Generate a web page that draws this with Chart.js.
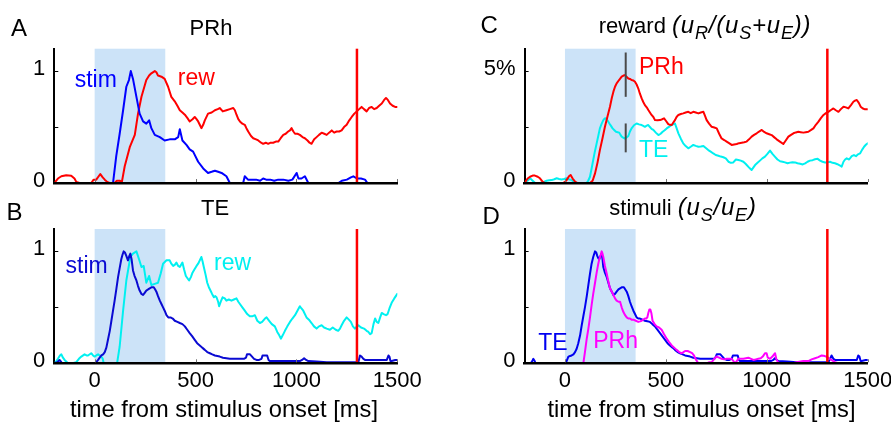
<!DOCTYPE html>
<html><head><meta charset="utf-8">
<script src="https://cdn.jsdelivr.net/npm/chart.js@4.4.1/dist/chart.umd.min.js"></script>
<style>
html,body{margin:0;padding:0;background:#fff;overflow:hidden;width:891px;height:424px}
body{position:relative;font-family:"Liberation Sans",Arial,Helvetica,sans-serif;color:#000}
canvas{position:absolute}
.t{position:absolute;white-space:nowrap;line-height:1}
.c{transform:translateX(-50%)}
.i{font-style:italic;font-size:24px;letter-spacing:0.8px}
.s{font-size:18px;position:relative;top:6px}
</style></head><body>
<canvas id="cA" width="445" height="192" style="left:0;top:20px"></canvas>
<canvas id="cB" width="445" height="200" style="left:0;top:200px"></canvas>
<canvas id="cC" width="455" height="192" style="left:445px;top:20px"></canvas>
<canvas id="cD" width="455" height="200" style="left:445px;top:200px"></canvas>

<div class="t" style="left:11px;top:16px;font-size:24px">A</div>
<div class="t" style="left:6.5px;top:200px;font-size:24px">B</div>
<div class="t" style="left:480.5px;top:13px;font-size:24px">C</div>
<div class="t" style="left:482.5px;top:204px;font-size:24px">D</div>

<div class="t c" style="left:211px;top:17.4px;font-size:22px">PRh</div>
<div class="t c" style="left:215px;top:197.4px;font-size:22px">TE</div>
<div class="t c" style="left:705px;top:13.4px;font-size:22px">reward <span class="i">(u<span class="s">R</span>/(u<span class="s">S</span>+u<span class="s">E</span>))</span></div>
<div class="t c" style="left:683px;top:194.5px;font-size:22px">stimuli <span class="i">(u<span class="s">S</span>/u<span class="s">E</span>)</span></div>
<div class="t c" style="left:224px;top:398px;font-size:23.7px">time from stimulus onset [ms]</div>
<div class="t c" style="left:701.5px;top:398px;font-size:23.7px">time from stimulus onset [ms]</div>

<script>
// ---------- data ----------
const timeTicks = [0, 500, 1000, 1500];
const timeTickLabels = ['0', '500', '1000', '1500'];
const unitTicks = [0, 0.5, 1];
const unitTickLabels = ['0', '', '1'];
const pctTicks = [0, 2.5, 5];
const pctTickLabels = ['0', '', '5%'];
const stimWindow = [0, 350];      // ms, shaded stimulus period
const rewardOnset = 1300;         // ms, red line

// Panel A: PRh, stim (blue) and rew (red)
const prhStim = [[-200,0],[-180,0],[-150,0],[-100,0],[-50,0],[0,0],[50,0],[91,0],[107,0.24],[124,0.44],[141,0.65],[157,0.86],[170,0.92],[179,1.0],[190,0.93],[207,0.77],[223,0.62],[240,0.55],[256,0.53],[270,0.56],[281,0.49],[298,0.43],[323,0.41],[347,0.38],[372,0.39],[397,0.39],[414,0.41],[422,0.48],[435,0.38],[455,0.34],[471,0.30],[488,0.28],[513,0.19],[538,0.13],[562,0.09],[580,0.10],[596,0.11],[612,0.10],[629,0.09],[653,0.06],[670,0],[720,0],[736,0],[744,0.06],[760,0.03],[780,0.03],[800,0.03],[820,0.02],[835,0.04],[850,0.03],[870,0.03],[890,0.02],[910,0.03],[935,0.03],[960,0.02],[980,0.03],[1001,0.09],[1010,0.04],[1025,0.04],[1042,0.06],[1059,0],[1100,0],[1150,0],[1208,0],[1225,0.02],[1250,0.03],[1270,0.05],[1282,0.06],[1300,0.04],[1320,0.04],[1340,0.03],[1352,0],[1400,0],[1450,0],[1500,0]];
const prhRew = [[-200,0],[-182,0.04],[-165,0.06],[-141,0.07],[-116,0.065],[-100,0.04],[-91,0.01],[-75,0],[-58,0],[-40,0],[-17,0],[-5,0.03],[8,0.03],[20,0.06],[28,0.08],[40,0.05],[50,0.03],[62,0.01],[74,0],[99,0],[110,0.02],[124,0.02],[135,0.01],[149,0.15],[174,0.32],[199,0.43],[215,0.62],[232,0.77],[256,0.92],[270,0.96],[281,0.98],[298,1.0],[306,0.99],[314,0.96],[331,0.95],[347,0.93],[364,0.86],[380,0.77],[397,0.73],[410,0.69],[422,0.65],[435,0.63],[447,0.61],[460,0.58],[471,0.55],[485,0.57],[496,0.59],[505,0.57],[513,0.55],[521,0.52],[529,0.49],[538,0.52],[546,0.56],[562,0.62],[580,0.63],[596,0.65],[610,0.66],[620,0.67],[635,0.64],[653,0.65],[670,0.66],[687,0.67],[695,0.65],[703,0.61],[712,0.57],[720,0.55],[732,0.53],[744,0.52],[752,0.49],[761,0.46],[775,0.42],[786,0.40],[800,0.39],[811,0.38],[825,0.36],[835,0.35],[848,0.36],[860,0.35],[872,0.36],[885,0.36],[898,0.37],[910,0.37],[922,0.40],[935,0.43],[947,0.44],[959,0.46],[968,0.47],[976,0.49],[985,0.46],[993,0.44],[1005,0.44],[1017,0.43],[1030,0.41],[1042,0.40],[1055,0.38],[1065,0.36],[1075,0.35],[1088,0.39],[1100,0.41],[1112,0.43],[1125,0.45],[1138,0.44],[1150,0.43],[1162,0.45],[1175,0.47],[1187,0.45],[1199,0.46],[1212,0.46],[1224,0.47],[1236,0.50],[1249,0.52],[1262,0.56],[1274,0.59],[1287,0.62],[1299,0.64],[1311,0.66],[1323,0.68],[1335,0.66],[1348,0.64],[1360,0.67],[1373,0.68],[1385,0.66],[1398,0.67],[1410,0.69],[1423,0.71],[1434,0.74],[1444,0.76],[1454,0.74],[1464,0.71],[1477,0.69],[1489,0.68],[1500,0.68]];

// Panel B: TE, stim (dark blue) and rew (cyan)
const teStim = [[-200,0],[-185,0.01],[-174,0.03],[-165,0.01],[-160,0],[-100,0],[-50,0],[0,0],[8,0.01],[17,0.03],[25,0.05],[33,0.07],[42,0.08],[50,0.10],[58,0.14],[66,0.21],[75,0.29],[83,0.38],[91,0.47],[99,0.56],[108,0.67],[116,0.77],[124,0.85],[132,0.93],[138,0.97],[144,1.0],[150,0.99],[157,0.96],[165,0.92],[172,0.96],[177,0.98],[183,0.93],[190,0.83],[198,0.78],[207,0.74],[215,0.69],[223,0.65],[232,0.62],[240,0.61],[248,0.63],[256,0.65],[265,0.66],[273,0.67],[283,0.68],[293,0.68],[300,0.66],[306,0.64],[314,0.60],[323,0.56],[331,0.53],[339,0.50],[347,0.47],[356,0.43],[365,0.41],[376,0.41],[387,0.40],[397,0.38],[410,0.37],[422,0.36],[435,0.35],[447,0.33],[459,0.30],[471,0.27],[484,0.24],[496,0.21],[508,0.18],[521,0.16],[533,0.14],[546,0.12],[558,0.10],[571,0.09],[583,0.08],[596,0.07],[608,0.065],[620,0.06],[636,0.05],[653,0.045],[670,0.04],[687,0.04],[703,0.04],[720,0.04],[740,0.04],[750,0.05],[755,0.08],[770,0.08],[780,0.06],[790,0.04],[802,0.03],[815,0.03],[827,0.04],[832,0.07],[845,0.07],[855,0.07],[862,0.03],[868,0.02],[900,0.02],[935,0.02],[975,0.02],[1017,0.02],[1028,0.03],[1038,0.045],[1048,0.03],[1059,0.02],[1100,0.015],[1150,0.01],[1183,0.01],[1230,0.01],[1282,0.01],[1307,0.01],[1315,0.07],[1323,0.06],[1332,0.04],[1340,0.03],[1398,0.03],[1448,0.03],[1456,0.07],[1461,0.06],[1466,0.02],[1472,0.02],[1490,0.03],[1500,0.03]];
const teRew = [[-200,0],[-190,0.02],[-182,0.04],[-172,0.07],[-165,0.08],[-157,0.05],[-149,0.03],[-132,0],[-110,0],[-91,0.01],[-78,0.04],[-66,0.06],[-50,0.08],[-40,0.07],[-33,0.07],[-17,0.09],[-8,0.07],[0,0.06],[8,0.07],[17,0.08],[25,0.07],[33,0.06],[40,0.04],[45,0],[80,0],[111,0],[124,0.15],[141,0.47],[157,0.74],[177,0.95],[190,0.98],[207,1.0],[220,0.93],[232,0.86],[243,0.87],[256,0.72],[270,0.78],[281,0.70],[298,0.71],[314,0.72],[327,0.80],[339,0.89],[356,0.92],[372,0.92],[380,0.89],[389,0.87],[397,0.88],[405,0.90],[414,0.87],[422,0.86],[435,0.90],[443,0.84],[452,0.78],[460,0.76],[468,0.74],[477,0.77],[485,0.81],[495,0.84],[505,0.87],[513,0.89],[521,0.92],[529,0.95],[535,0.91],[541,0.86],[550,0.79],[558,0.72],[566,0.68],[574,0.65],[582,0.62],[591,0.59],[597,0.60],[604,0.59],[612,0.55],[617,0.51],[625,0.55],[634,0.59],[645,0.58],[653,0.56],[665,0.57],[678,0.56],[690,0.57],[703,0.58],[712,0.55],[720,0.53],[732,0.50],[744,0.47],[756,0.44],[769,0.42],[781,0.42],[794,0.43],[806,0.38],[819,0.36],[830,0.37],[844,0.40],[852,0.41],[865,0.38],[878,0.35],[893,0.33],[905,0.28],[915,0.25],[923,0.22],[932,0.25],[943,0.29],[955,0.33],[968,0.37],[980,0.40],[993,0.43],[1005,0.47],[1017,0.51],[1025,0.49],[1034,0.47],[1050,0.41],[1062,0.39],[1075,0.36],[1087,0.33],[1100,0.31],[1112,0.33],[1125,0.34],[1137,0.32],[1150,0.31],[1166,0.30],[1180,0.32],[1195,0.30],[1207,0.29],[1216,0.31],[1224,0.34],[1236,0.38],[1249,0.41],[1260,0.39],[1270,0.37],[1280,0.33],[1290,0.31],[1300,0.33],[1307,0.34],[1320,0.32],[1335,0.31],[1348,0.29],[1357,0.28],[1365,0.26],[1373,0.27],[1382,0.35],[1390,0.40],[1398,0.37],[1406,0.36],[1415,0.41],[1423,0.45],[1432,0.44],[1444,0.43],[1452,0.44],[1461,0.49],[1472,0.54],[1485,0.58],[1500,0.62]];

// Panel C: reward fraction (%), PRh (red) and TE (cyan)
const rewPRh = [[-200,0],[-185,0.2],[-173,0.28],[-160,0.33],[-149,0.33],[-135,0.28],[-124,0.21],[-110,0.05],[-99,0],[-50,0],[-10,0],[0,0.05],[8,0.13],[20,0.30],[28,0.36],[38,0.2],[50,0.06],[62,0],[74,0],[100,0],[124,0],[137,0.1],[149,0.43],[161,0.9],[173,1.47],[186,2.0],[198,2.51],[210,2.95],[223,3.41],[232,3.8],[240,4.08],[248,4.3],[256,4.45],[268,4.6],[281,4.75],[290,4.8],[297,4.82],[305,4.75],[314,4.67],[322,4.65],[330,4.60],[339,4.58],[347,4.52],[355,4.4],[363,4.23],[371,4.0],[380,3.78],[388,3.62],[396,3.48],[405,3.38],[413,3.26],[421,3.15],[429,3.04],[438,2.95],[446,2.81],[458,2.8],[471,2.81],[482,2.85],[491,2.89],[500,2.78],[512,2.63],[520,2.6],[529,2.59],[537,2.7],[545,2.81],[553,2.95],[562,3.04],[574,3.08],[586,3.11],[598,3.15],[611,3.18],[623,3.12],[636,3.18],[648,3.15],[661,3.11],[673,3.15],[686,3.18],[694,3.0],[702,2.81],[714,2.65],[727,2.51],[740,2.48],[752,2.44],[764,2.2],[776,1.99],[789,1.92],[801,1.85],[813,1.78],[826,1.70],[838,1.72],[851,1.74],[863,1.78],[876,1.80],[888,1.82],[900,1.85],[912,1.95],[925,2.07],[937,2.15],[950,2.22],[962,2.3],[975,2.37],[987,2.28],[999,2.22],[1012,2.18],[1024,2.14],[1036,2.05],[1049,1.95],[1065,1.85],[1082,1.74],[1094,1.9],[1107,2.07],[1120,2.15],[1132,2.22],[1144,2.26],[1156,2.29],[1168,2.27],[1181,2.25],[1193,2.27],[1206,2.29],[1218,2.36],[1231,2.44],[1243,2.6],[1256,2.74],[1268,2.9],[1281,3.04],[1293,3.12],[1305,3.18],[1318,3.26],[1330,3.33],[1342,3.25],[1355,3.18],[1367,3.3],[1380,3.41],[1392,3.38],[1404,3.33],[1417,3.48],[1429,3.63],[1437,3.68],[1446,3.71],[1456,3.58],[1465,3.41],[1476,3.33],[1487,3.29],[1500,3.29]];
const rewTE = [[-200,0],[-185,0.1],[-173,0.21],[-160,0.1],[-149,0.01],[-124,0],[-105,0.05],[-91,0.10],[-78,0.12],[-66,0.13],[-53,0.17],[-41,0.21],[-29,0.18],[-17,0.16],[-5,0.18],[8,0.21],[20,0.17],[33,0.13],[42,0.06],[50,0],[80,0],[107,0],[115,0.1],[124,0.28],[132,0.65],[140,1.03],[148,1.4],[157,1.77],[165,2.1],[173,2.44],[182,2.65],[190,2.81],[197,2.88],[203,2.89],[212,2.78],[220,2.66],[228,2.55],[236,2.44],[245,2.36],[253,2.29],[261,2.27],[269,2.25],[275,2.15],[281,2.07],[289,2.02],[297,1.99],[305,2.03],[314,2.10],[322,2.3],[330,2.44],[342,2.58],[355,2.66],[367,2.62],[380,2.59],[388,2.55],[396,2.51],[405,2.56],[413,2.59],[421,2.5],[429,2.42],[438,2.37],[450,2.25],[463,2.14],[474,2.2],[484,2.29],[494,2.36],[504,2.44],[517,2.52],[529,2.59],[537,2.63],[545,2.66],[553,2.45],[562,2.22],[574,1.98],[586,1.77],[598,1.65],[611,1.55],[623,1.62],[636,1.70],[648,1.66],[661,1.62],[673,1.63],[686,1.65],[698,1.56],[710,1.47],[722,1.4],[735,1.32],[747,1.25],[760,1.22],[772,1.18],[785,1.15],[797,1.10],[810,0.95],[822,0.9],[834,0.92],[847,1.05],[859,1.03],[871,1.0],[884,0.95],[896,0.85],[909,0.72],[917,0.65],[925,0.58],[934,0.70],[942,0.80],[954,0.9],[966,1.00],[978,1.1],[991,1.18],[1003,1.3],[1016,1.45],[1028,1.3],[1041,1.17],[1053,1.05],[1066,0.97],[1078,0.95],[1090,0.92],[1103,0.88],[1115,0.91],[1127,0.93],[1140,0.92],[1152,0.88],[1165,0.86],[1178,0.83],[1190,0.88],[1202,0.95],[1214,1.0],[1227,1.02],[1239,1.06],[1252,1.08],[1264,1.0],[1276,0.95],[1289,0.92],[1301,0.92],[1313,0.95],[1326,0.9],[1338,0.88],[1350,0.84],[1363,0.78],[1371,0.73],[1380,0.95],[1388,1.05],[1396,1.10],[1408,1.05],[1421,1.2],[1432,1.25],[1442,1.2],[1452,1.28],[1462,1.32],[1472,1.48],[1482,1.62],[1492,1.72],[1500,1.77]];
// error bars at the PRh peak: [time, low %, high %]
const errPRh = [301, 3.85, 5.83];
const errTE = [301, 1.37, 2.66];

// Panel D: stimulus fraction, TE (blue) and PRh (magenta)
const stimTE = [[-200,0],[-185,0],[-170,0],[-162,0.02],[-157,0.04],[-150,0.02],[-145,0],[-100,0],[-50,0],[0,0],[8,0.02],[17,0.06],[25,0.065],[33,0.07],[42,0.08],[50,0.10],[58,0.13],[66,0.18],[75,0.25],[83,0.34],[91,0.42],[99,0.50],[108,0.60],[116,0.70],[124,0.80],[132,0.89],[140,0.95],[149,1.0],[155,0.99],[160,0.96],[165,0.94],[170,0.93],[176,0.96],[182,0.98],[186,0.93],[190,0.86],[198,0.81],[207,0.77],[215,0.72],[223,0.67],[232,0.64],[240,0.61],[248,0.62],[256,0.64],[265,0.66],[273,0.67],[283,0.68],[292,0.68],[299,0.66],[306,0.64],[314,0.60],[322,0.55],[330,0.51],[339,0.47],[347,0.44],[355,0.41],[363,0.40],[372,0.40],[384,0.39],[396,0.38],[408,0.375],[421,0.37],[433,0.35],[446,0.33],[458,0.30],[471,0.27],[483,0.24],[496,0.21],[508,0.18],[520,0.16],[533,0.14],[545,0.12],[558,0.10],[570,0.09],[583,0.08],[595,0.07],[608,0.065],[620,0.06],[636,0.05],[653,0.045],[670,0.04],[686,0.04],[703,0.04],[719,0.04],[740,0.04],[748,0.06],[752,0.08],[770,0.08],[780,0.06],[790,0.04],[801,0.03],[815,0.03],[826,0.04],[832,0.07],[845,0.07],[856,0.07],[862,0.03],[867,0.02],[900,0.02],[950,0.02],[990,0.02],[1020,0.02],[1033,0.03],[1040,0.045],[1050,0.03],[1057,0.02],[1100,0.015],[1148,0.01],[1181,0.01],[1230,0.01],[1280,0.01],[1305,0.01],[1314,0.04],[1321,0.07],[1330,0.04],[1338,0.03],[1396,0.03],[1446,0.03],[1453,0.07],[1459,0.06],[1465,0.02],[1470,0.02],[1490,0.03],[1500,0.03]];
const stimPRh = [[-200,0],[-100,0],[0,0],[50,0],[91,0],[99,0.1],[107,0.21],[116,0.31],[124,0.41],[132,0.52],[140,0.62],[149,0.72],[157,0.81],[164,0.88],[170,0.93],[176,0.96],[182,1.0],[186,0.98],[190,0.95],[198,0.87],[207,0.80],[215,0.73],[223,0.67],[232,0.64],[240,0.61],[248,0.58],[256,0.56],[265,0.55],[273,0.55],[281,0.50],[289,0.46],[298,0.43],[306,0.41],[314,0.40],[322,0.40],[330,0.39],[339,0.39],[351,0.38],[363,0.37],[372,0.375],[380,0.38],[388,0.39],[396,0.40],[403,0.40],[408,0.41],[413,0.45],[418,0.48],[423,0.48],[428,0.45],[434,0.38],[444,0.35],[454,0.33],[466,0.32],[479,0.30],[491,0.26],[504,0.22],[516,0.19],[529,0.16],[541,0.14],[553,0.12],[566,0.10],[578,0.09],[587,0.10],[595,0.11],[608,0.11],[620,0.10],[630,0.09],[639,0.07],[650,0.03],[661,0],[702,0],[715,0.01],[727,0.01],[740,0.04],[752,0.06],[764,0.05],[776,0.04],[789,0.035],[801,0.04],[813,0.04],[826,0.04],[835,0.02],[843,0],[851,0.02],[859,0.04],[872,0.04],[884,0.04],[897,0.045],[909,0.05],[922,0.04],[934,0.03],[946,0.035],[958,0.04],[970,0.045],[980,0.06],[991,0.09],[999,0.09],[1005,0.05],[1016,0.04],[1028,0.06],[1036,0.08],[1041,0.09],[1047,0.04],[1055,0.01],[1066,0],[1100,0],[1130,0],[1148,0.01],[1181,0.02],[1206,0.02],[1222,0.035],[1239,0.045],[1255,0.055],[1272,0.07],[1288,0.065],[1305,0.05],[1320,0.03],[1338,0.01],[1355,0],[1400,0],[1450,0],[1500,0]];

// ---------- drawing ----------
const FONT = '"Liberation Sans", Arial, Helvetica, sans-serif';
const SHADE = '#cce3f8';

const overlay = {
  id: 'overlay',
  beforeDatasetsDraw(chart, _a, o) {
    const {ctx, chartArea: a, scales: {x}} = chart;
    const x0 = x.getPixelForValue(stimWindow[0]), x1 = x.getPixelForValue(stimWindow[1]);
    ctx.save();
    ctx.fillStyle = SHADE;
    ctx.fillRect(x0, a.top, x1 - x0, a.bottom - a.top);
    ctx.restore();
  },
  afterDatasetsDraw(chart, _a, o) {
    const {ctx, chartArea: a, scales: {x, y}} = chart;
    ctx.save();
    (o.bars || []).forEach(b => {
      const px = x.getPixelForValue(b[0]);
      ctx.strokeStyle = '#4a4a4a'; ctx.lineWidth = 2;
      ctx.beginPath();
      ctx.moveTo(px, y.getPixelForValue(b[1]));
      ctx.lineTo(px, y.getPixelForValue(b[2]));
      ctx.stroke();
    });
    const rx = x.getPixelForValue(rewardOnset);
    ctx.strokeStyle = '#ff0000'; ctx.lineWidth = 2.5;
    ctx.beginPath(); ctx.moveTo(rx, a.top); ctx.lineTo(rx, a.bottom); ctx.stroke();
    ctx.font = '23px ' + FONT;
    ctx.textBaseline = 'alphabetic'; ctx.textAlign = 'left';
    (o.labels || []).forEach(l => {
      ctx.fillStyle = l.color;
      ctx.fillText(l.text, x.getPixelForValue(l.x), y.getPixelForValue(l.y));
    });
    ctx.restore();
  },
  afterDraw(chart, _a, o) {
    const {ctx, chartArea: a, scales: {x, y}} = chart;
    ctx.save();
    ctx.strokeStyle = '#000'; ctx.lineWidth = 1;
    y.ticks.forEach(t => {
      if (t.value === 0) return;
      const py = Math.round(y.getPixelForValue(t.value)) + 0.5;
      ctx.beginPath(); ctx.moveTo(a.left, py); ctx.lineTo(a.left + 4, py); ctx.stroke();
    });
    ctx.strokeStyle = '#777';
    x.ticks.forEach(t => {
      const px = Math.round(x.getPixelForValue(t.value)) + 0.5;
      ctx.beginPath(); ctx.moveTo(px, a.bottom - 1); ctx.lineTo(px, a.bottom - 4); ctx.stroke();
    });
    ctx.restore();
  }
};

function makePanel(p) {
  const wy = 44;
  const canvas = document.getElementById(p.id);
  const cw = canvas.width, ch = canvas.height;
  const padding = {
    left: p.L - p.left - wy,
    right: p.left + cw - p.R,
    top: p.T - p.top,
    bottom: p.top + ch - p.B - p.hx
  };
  const tickFont = {family: FONT, size: 22};
  new Chart(canvas, {
    type: 'line',
    data: {
      datasets: p.series.map(s => ({
        data: s.data.map(d => ({x: d[0], y: d[1]})),
        borderColor: s.color,
        borderWidth: 2,
        pointRadius: 0,
        fill: false,
        tension: 0,
        borderJoinStyle: 'round',
        borderCapStyle: 'round'
      }))
    },
    options: {
      responsive: false,
      animation: false,
      devicePixelRatio: 1,
      layout: {padding},
      plugins: {
        legend: {display: false},
        tooltip: {enabled: false},
        overlay: {labels: p.labels, bars: p.bars}
      },
      scales: {
        x: {
          type: 'linear', min: -200, max: 1500,
          afterBuildTicks: s => { s.ticks = timeTicks.map(v => ({value: v})); },
          afterFit: s => { s.height = p.hx; },
          grid: {display: false, drawTicks: false},
          border: {display: true, color: '#000', width: 2.5, z: 1},
          ticks: {
            display: p.showX, padding: 4, color: '#000', font: tickFont,
            maxRotation: 0, autoSkip: false,
            callback: (v, i) => timeTickLabels[i]
          }
        },
        y: {
          type: 'linear', min: 0, max: p.yMax,
          afterBuildTicks: s => { s.ticks = p.yTicks.map(v => ({value: v})); },
          afterFit: s => { s.width = wy; },
          grid: {display: false, drawTicks: false},
          border: {display: true, color: '#000', width: 2},
          ticks: {
            padding: 9, color: '#000', font: tickFont, autoSkip: false, labelOffset: -2,
            callback: (v, i) => p.yLabels[i]
          }
        }
      }
    },
    plugins: [overlay]
  });
}

makePanel({
  id: 'cA', left: 0, top: 20, L: 54.3, T: 48.7, R: 397.3, B: 183, hx: 4, showX: false,
  yMax: 1.2, yTicks: unitTicks, yLabels: unitTickLabels,
  series: [{data: prhStim, color: '#0000ff'}, {data: prhRew, color: '#ff0000'}],
  labels: [{text: 'stim', x: -99, y: 0.86, color: '#0000ff'}, {text: 'rew', x: 412, y: 0.875, color: '#ff0000'}]
});
makePanel({
  id: 'cB', left: 0, top: 200, L: 54.3, T: 229, R: 397.3, B: 363.3, hx: 34, showX: true,
  yMax: 1.2, yTicks: unitTicks, yLabels: unitTickLabels,
  series: [{data: teStim, color: '#0a0ad2'}, {data: teRew, color: '#00f0f0'}],
  labels: [{text: 'stim', x: -144, y: 0.81, color: '#0a0ad2'}, {text: 'rew', x: 592, y: 0.83, color: '#00f0f0'}]
});
makePanel({
  id: 'cC', left: 445, top: 20, L: 524.6, T: 48.7, R: 867.7, B: 183, hx: 4, showX: false,
  yMax: 6, yTicks: pctTicks, yLabels: pctTickLabels,
  series: [{data: rewPRh, color: '#ff0000'}, {data: rewTE, color: '#00f0f0'}],
  labels: [{text: 'PRh', x: 367, y: 4.87, color: '#ff0000'}, {text: 'TE', x: 367, y: 1.17, color: '#00f0f0'}],
  bars: [errPRh, errTE]
});
makePanel({
  id: 'cD', left: 445, top: 200, L: 524.6, T: 229, R: 867.7, B: 363.3, hx: 34, showX: true,
  yMax: 1.2, yTicks: unitTicks, yLabels: unitTickLabels,
  series: [{data: stimPRh, color: '#ff00ff'}, {data: stimTE, color: '#0000f0'}],
  labels: [{text: 'TE', x: -132, y: 0.12, color: '#0000f0'}, {text: 'PRh', x: 140, y: 0.14, color: '#ff00ff'}]
});
</script>
</body></html>
